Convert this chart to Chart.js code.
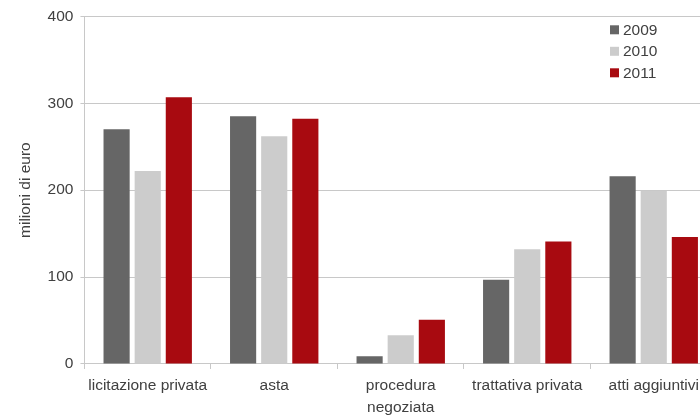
<!DOCTYPE html>
<html>
<head>
<meta charset="utf-8">
<script src="https://cdn.jsdelivr.net/npm/chart.js@4"></script>
<style>
  html, body { margin: 0; padding: 0; background: #fff; overflow: hidden; }
  #wrap { width: 720px; height: 425px; }
</style>
</head>
<body>
<div id="wrap"><canvas id="appalti"></canvas></div>
<script>
// categorie e valori (milioni di euro)
const categories = ['licitazione privata', 'asta', ['procedura', 'negoziata'], 'trattativa privata', 'atti aggiuntivi'];
const years = ['2009', '2010', '2011'];
const values2009 = [270, 285, 9, 97, 216];
const values2010 = [222, 262, 33, 132, 199];
const values2011 = [307, 282, 51, 141, 146];
const yTicks = [0, 100, 200, 300, 400];

const colors = ['#666666', '#cccccc', '#a80a10'];
const textColor = '#404040';
const gridColor = '#c8c8c8';

Chart.defaults.font.family = "'Liberation Sans', Arial, sans-serif";
Chart.defaults.font.size = 15.5;
Chart.defaults.color = textColor;

// legenda in alto a destra, dentro l'area del grafico
const insideLegend = {
    id: 'insideLegend',
    afterDraw(chart) {
        const { ctx, chartArea } = chart;
        const x = chartArea.right - 107;
        let y = chartArea.top + 9;
        ctx.save();
        ctx.font = "15.5px 'Liberation Sans', Arial, sans-serif";
        ctx.textBaseline = 'middle';
        chart.data.datasets.forEach(ds => {
            ctx.fillStyle = ds.backgroundColor;
            ctx.fillRect(x, y, 9, 9);
            ctx.fillStyle = textColor;
            ctx.fillText(ds.label, x + 13, y + 5);
            y += 21.5;
        });
        ctx.restore();
    }
};

const series = [values2009, values2010, values2011];

new Chart(document.getElementById('appalti'), {
    type: 'bar',
    data: {
        labels: categories,
        datasets: series.map((vals, i) => ({
            label: years[i],
            data: vals,
            backgroundColor: colors[i],
            borderWidth: 0,
            categoryPercentage: 0.738,
            barPercentage: 0.84
        }))
    },
    options: {
        responsive: true,
        maintainAspectRatio: false,
        animation: false,
        layout: { padding: { top: 6, right: 3, left: 16, bottom: 0 } },
        plugins: {
            legend: { display: false },
            tooltip: { enabled: false }
        },
        scales: {
            y: {
                min: 0,
                max: 400,
                afterBuildTicks: axis => { axis.ticks = yTicks.map(v => ({ value: v })); },
                border: { color: gridColor, width: 1 },
                grid: { color: gridColor, lineWidth: 1, tickLength: 4 },
                ticks: { padding: 7, color: textColor },
                title: {
                    display: true,
                    text: 'milioni di euro',
                    color: textColor,
                    padding: { top: 0, bottom: 6 }
                }
            },
            x: {
                border: { color: gridColor, width: 1 },
                grid: { drawOnChartArea: false, color: gridColor, tickLength: 5, offset: true },
                ticks: { padding: 6, color: textColor, maxRotation: 0, autoSkip: false, font: { lineHeight: 1.42 } }
            }
        }
    },
    plugins: [insideLegend]
});
</script>
</body>
</html>
